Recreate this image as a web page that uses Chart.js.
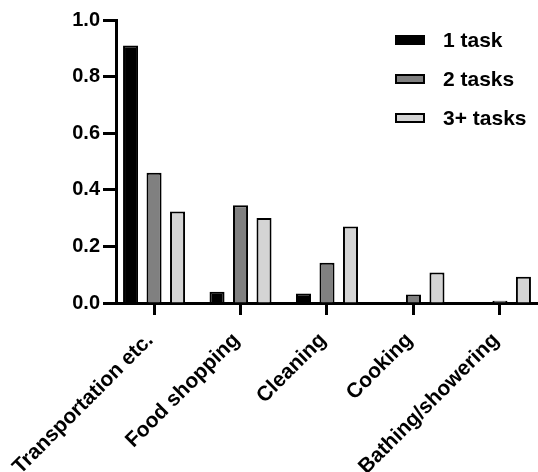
<!DOCTYPE html>
<html>
<head>
<meta charset="utf-8">
<title>Tasks by activity</title>
<script src="https://cdn.jsdelivr.net/npm/chart.js@4.4.1/dist/chart.umd.min.js"></script>
<style>
  body { margin: 0; background: #fff; }
  #wrap { position: relative; width: 538px; height: 472px; }
  #legend {
    position: absolute; left: 395px; top: 20px;
    font: bold 21px "Liberation Sans", Arial, sans-serif; color: #000;
  }
  .item { display: flex; align-items: center; height: 39px; }
  .swatch {
    width: 30px; height: 10px; border: 2px solid #000;
    box-sizing: border-box; margin-right: 18px;
  }
</style>
</head>
<body>
<div id="wrap">
  <canvas id="chart" width="538" height="472"></canvas>
  <div id="legend"></div>
</div>
<script>
// Data
const categories = ['Transportation etc.', 'Food shopping', 'Cleaning', 'Cooking', 'Bathing/showering'];
const seriesNames = ['1 task', '2 tasks', '3+ tasks'];
const oneTask = [0.91, 0.04, 0.034, 0, 0];
const twoTasks = [0.46, 0.345, 0.142, 0.03, 0.008];
const threeTasks = [0.323, 0.30, 0.27, 0.108, 0.093];
const yTicks = [0, 0.2, 0.4, 0.6, 0.8, 1.0];

const seriesValues = [oneTask, twoTasks, threeTasks];
const fills = ['#000000', '#808080', '#d4d4d4'];

Chart.defaults.font.family = '"Liberation Sans", Arial, sans-serif';
Chart.defaults.font.size = 20;
Chart.defaults.font.weight = 'bold';
Chart.defaults.color = '#000';

// Build the bar datasets (x = category index on a linear axis)
const datasets = seriesNames.map((name, k) => ({
  label: name,
  data: seriesValues[k].map((v, i) => ({ x: i, y: v })),
  backgroundColor: fills[k],
  borderColor: '#000',
  borderWidth: 2,
  categoryPercentage: 0.815,
  barPercentage: 0.64,
}));

const chart = new Chart(document.getElementById('chart'), {
  type: 'bar',
  data: { datasets },
  options: {
    responsive: false,
    animation: false,
    layout: { padding: { top: 20, right: 0, left: 0, bottom: 0 } },
    scales: {
      x: {
        type: 'linear',
        bounds: 'data',
        offset: false,
        min: -0.44,
        max: 4.44,
        afterBuildTicks: (scale) => {
          scale.ticks = categories.map((c, i) => ({ value: i }));
        },
        afterFit: (scale) => {
          scale.height = 169;
          scale.paddingLeft = 0;
          scale.paddingRight = 0;
        },
        ticks: {
          minRotation: 45,
          maxRotation: 45,
          padding: 13,
          labelOffset: -4,
          font: { size: 21 },
          callback: (v) => categories[v],
        },
        grid: {
          offset: false,
          drawOnChartArea: false,
          drawTicks: true,
          tickLength: 12,
          tickWidth: 3,
          tickColor: '#000',
        },
        border: { display: true, color: '#000', width: 3 },
      },
      y: {
        min: 0,
        max: 1,
        afterBuildTicks: (scale) => {
          scale.ticks = yTicks.map((v) => ({ value: v }));
        },
        afterFit: (scale) => {
          scale.width = 116;
        },
        ticks: {
          padding: 3,
          callback: (v) => v.toFixed(1),
        },
        grid: {
          drawOnChartArea: false,
          drawTicks: true,
          tickLength: 13,
          tickWidth: 3,
          tickColor: '#000',
        },
        border: { display: true, color: '#000', width: 3 },
      },
    },
    plugins: {
      legend: { display: false },
      tooltip: { enabled: false },
    },
  },
});

// Legend built from the datasets
const legend = document.getElementById('legend');
chart.data.datasets.forEach((ds) => {
  const item = document.createElement('div');
  item.className = 'item';
  const sw = document.createElement('span');
  sw.className = 'swatch';
  sw.style.background = ds.backgroundColor;
  const txt = document.createElement('span');
  txt.textContent = ds.label;
  item.appendChild(sw);
  item.appendChild(txt);
  legend.appendChild(item);
});
</script>
</body>
</html>
